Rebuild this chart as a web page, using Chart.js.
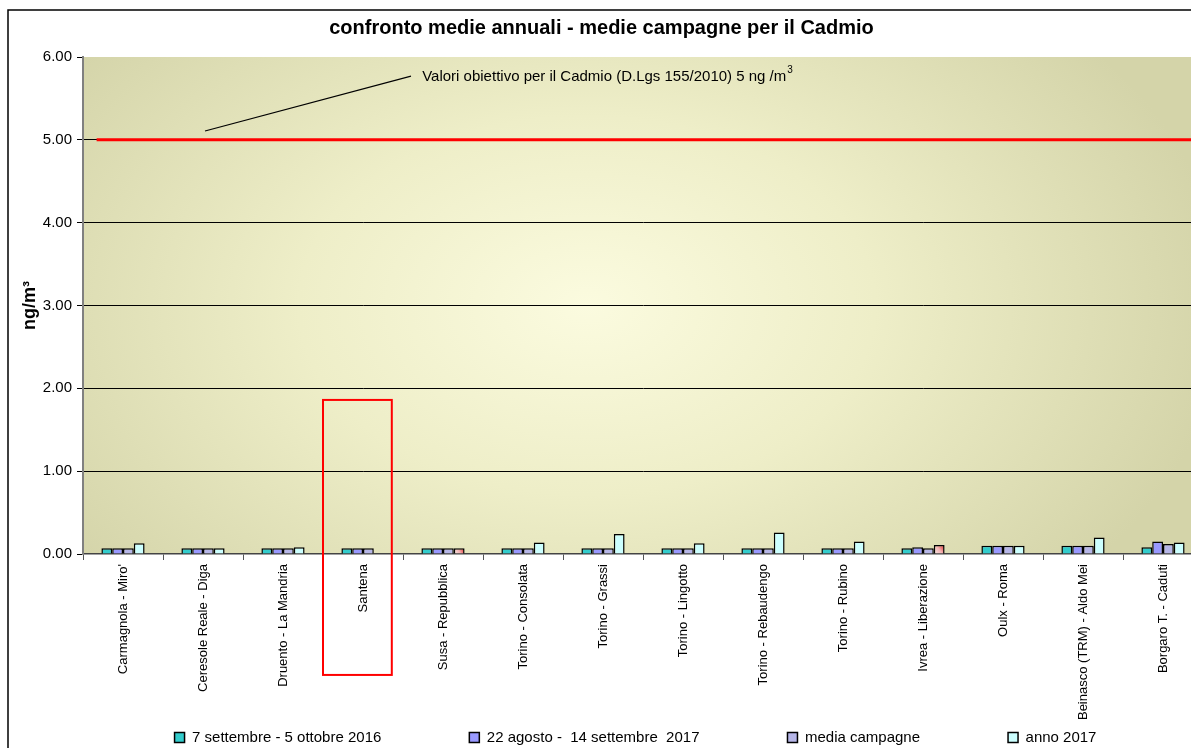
<!DOCTYPE html>
<html>
<head>
<meta charset="utf-8">
<script src="https://cdn.jsdelivr.net/npm/chart.js@4/dist/chart.umd.min.js"></script>
<style>
  html, body { margin: 0; padding: 0; background: #fff; overflow: hidden; }
  #wrap { position: relative; width: 1191px; height: 748px; overflow: hidden; }
  #wrap canvas { position: absolute; left: 0; top: 0; }
</style>
</head>
<body>
<div id="wrap"><canvas id="cd" width="1274" height="755" style="width:1274px;height:755px"></canvas></div>
<script>
// Cadmium (ng/m³) per monitoring station
const stations = [
  "Carmagnola - Miro'", "Ceresole Reale - Diga", "Druento - La Mandria", "Santena",
  "Susa - Repubblica", "Torino - Consolata", "Torino - Grassi", "Torino - Lingotto",
  "Torino - Rebaudengo", "Torino - Rubino", "Ivrea - Liberazione", "Oulx - Roma",
  "Beinasco (TRM) - Aldo Mei", "Borgaro T. - Caduti"
];
const seriesNames = [
  "7 settembre - 5 ottobre 2016",
  "22 agosto -  14 settembre  2017",
  "media campagne",
  "anno 2017"
];
const campaign2016 = [0.07, 0.07, 0.07, 0.07, 0.07, 0.07, 0.07, 0.07, 0.07, 0.07, 0.07, 0.10, 0.10, 0.08];
const campaign2017 = [0.07, 0.07, 0.07, 0.07, 0.07, 0.07, 0.07, 0.07, 0.07, 0.07, 0.08, 0.10, 0.10, 0.15];
const campaignMean = [0.07, 0.07, 0.07, 0.07, 0.07, 0.07, 0.07, 0.07, 0.07, 0.07, 0.07, 0.10, 0.10, 0.12];
const year2017     = [0.13, 0.07, 0.08, null, 0.07, 0.14, 0.24, 0.13, 0.26, 0.15, 0.11, 0.10, 0.20, 0.14];
// stations whose yearly value is shown with a red-shaded bar
const partialYear = ["Susa - Repubblica", "Ivrea - Liberazione"];
// target value (D.Lgs 155/2010)
const targetValue = 5;
const yTicks = [0, 1, 2, 3, 4, 5, 6];
const highlighted = "Santena";

Chart.defaults.font.family = 'Arial, "Liberation Sans", sans-serif';
Chart.defaults.color = '#000';

const CAT_PCT = 0.54;
const FONT = 'Arial, "Liberation Sans", sans-serif';

function yearFill(ctx) {
  const chart = ctx.chart;
  const i = ctx.dataIndex;
  if (i === undefined || !partialYear.includes(stations[i])) return '#CCFFFF';
  const xs = chart.scales.x, ys = chart.scales.y;
  if (!xs || !ys || xs.width === undefined) return '#f0a0a0';
  const catW = xs.getPixelForValue(1) - xs.getPixelForValue(0);
  const bw = catW * CAT_PCT / 4;
  const cx = xs.getPixelForValue(i) + 1.5 * bw;
  const v = year2017[i];
  const g = chart.ctx.createLinearGradient(cx - bw / 2, ys.getPixelForValue(0), cx + bw / 2, ys.getPixelForValue(v));
  g.addColorStop(0, '#fbeaea');
  g.addColorStop(0.5, '#f2b4b4');
  g.addColorStop(1, '#e02020');
  return g;
}

const decorations = {
  id: 'decorations',
  afterLayout(chart) {
    // shift the bottom legend row to the right
    chart.legend.left += 34;
    chart.legend.right += 34;
    // let the rotated station names run below the axis box
    chart.scales.x.bottom = chart.height;
  },
  beforeDraw(chart) {
    const { ctx, chartArea: a } = chart;
    ctx.save();
    ctx.fillStyle = '#fff';
    ctx.fillRect(0, 0, chart.width, chart.height);
    // outer frame
    ctx.strokeStyle = '#000';
    ctx.lineWidth = 1.5;
    ctx.strokeRect(8, 10, 3000, 3000);
    // plot area radial shading
    const cx = a.left + a.width * 0.45, cy = a.top + a.height * 0.5;
    const rx = 640, ry = 420;
    ctx.beginPath();
    ctx.rect(a.left, a.top, a.width, a.height);
    ctx.clip();
    ctx.translate(cx, cy);
    ctx.scale(1, ry / rx);
    const g = ctx.createRadialGradient(0, 0, 0, 0, 0, rx);
    g.addColorStop(0, '#fbfbdf');
    g.addColorStop(0.45, '#eeeec8');
    g.addColorStop(1, '#d4d4a9');
    ctx.fillStyle = g;
    ctx.fillRect(-3000, -3000, 6000, 6000);
    ctx.restore();
  },
  afterDatasetsDraw(chart) {
    const { ctx, chartArea: a, scales: { x, y } } = chart;
    ctx.save();
    // target value line
    const yt = y.getPixelForValue(targetValue);
    ctx.strokeStyle = '#ff0000';
    ctx.lineWidth = 3;
    ctx.beginPath();
    ctx.moveTo(x.getPixelForValue(-0.33), yt);
    ctx.lineTo(a.right, yt);
    ctx.stroke();
    // label with leader line
    ctx.strokeStyle = '#000';
    ctx.lineWidth = 1.2;
    ctx.beginPath();
    ctx.moveTo(x.getPixelForValue(1.025), y.getPixelForValue(5.107));
    ctx.lineTo(x.getPixelForValue(3.6), y.getPixelForValue(5.77));
    ctx.stroke();
    const tx = x.getPixelForValue(3.74), ty = y.getPixelForValue(5.76);
    ctx.fillStyle = '#000';
    ctx.font = '15px ' + FONT;
    ctx.textAlign = 'left';
    ctx.textBaseline = 'middle';
    const label = 'Valori obiettivo per il Cadmio (D.Lgs 155/2010) 5 ng /m';
    ctx.fillText(label, tx, ty);
    const w = ctx.measureText(label).width;
    ctx.font = '10px ' + FONT;
    ctx.fillText('3', tx + w + 1, ty - 7);
    ctx.restore();
  },
  afterDraw(chart) {
    const { ctx, scales: { x, y } } = chart;
    const i = stations.indexOf(highlighted);
    ctx.save();
    ctx.strokeStyle = '#ff0000';
    ctx.lineWidth = 2;
    const l = x.getPixelForValue(i - 0.5), r = x.getPixelForValue(i + 0.36);
    const t = y.getPixelForValue(1.86), b = y.getPixelForValue(-1.46);
    ctx.strokeRect(l, t, r - l, b - t);
    ctx.restore();
  }
};

new Chart(document.getElementById('cd'), {
  type: 'bar',
  data: {
    labels: stations,
    datasets: [
      { label: seriesNames[0], data: campaign2016, backgroundColor: '#33CCCC' },
      { label: seriesNames[1], data: campaign2017, backgroundColor: '#9999FF' },
      { label: seriesNames[2], data: campaignMean, backgroundColor: '#B6B6E8' },
      { label: seriesNames[3], data: year2017, backgroundColor: yearFill }
    ].map(d => Object.assign(d, {
      borderColor: '#000', borderWidth: 1.5,
      categoryPercentage: CAT_PCT, barPercentage: 1
    }))
  },
  options: {
    responsive: false,
    animation: false,
    events: [],
    layout: { padding: { left: 0, right: 71, top: 0, bottom: 0 } },
    plugins: {
      title: {
        display: true,
        text: 'confronto medie annuali - medie campagne per il Cadmio',
        font: { size: 20, weight: 'bold' },
        color: '#000',
        padding: { top: 16, bottom: 17 }
      },
      legend: {
        position: 'bottom',
        labels: {
          boxWidth: 10, boxHeight: 10,
          padding: 88,
          font: { size: 15 },
          color: '#000',
          generateLabels(chart) {
            return chart.data.datasets.map((d, i) => ({
              text: d.label,
              fillStyle: typeof d.backgroundColor === 'string' ? d.backgroundColor : '#CCFFFF',
              strokeStyle: '#000',
              lineWidth: 1.5,
              datasetIndex: i
            }));
          }
        }
      },
      tooltip: { enabled: false }
    },
    scales: {
      x: {
        afterFit(s) { s.height = 88; },
        grid: {
          display: true, drawOnChartArea: false, drawTicks: true,
          tickLength: 6, offset: true, tickColor: '#555'
        },
        border: { display: true, color: '#444', width: 1.5 },
        ticks: {
          autoSkip: false, minRotation: 90, maxRotation: 90,
          padding: 4, font: { size: 13 }, color: '#000'
        }
      },
      y: {
        min: 0, max: 6,
        afterFit(s) { s.width = 83; },
        afterBuildTicks(s) { s.ticks = yTicks.map(v => ({ value: v })); },
        grid: {
          color: c => (c.tick && (c.tick.value === 6 || c.tick.value === 0)) ? 'rgba(0,0,0,0)' : '#000',
          lineWidth: 1, tickLength: 6, tickColor: '#000'
        },
        border: { display: true, color: '#808080', width: 2 },
        ticks: {
          padding: 5, font: { size: 15 }, color: '#000',
          callback: v => Number(v).toFixed(2)
        },
        title: {
          display: true, text: 'ng/m³',
          font: { size: 18, weight: 'bold' }, color: '#000',
          padding: { top: 19, bottom: 0 }
        }
      }
    }
  },
  plugins: [decorations]
});
</script>
</body>
</html>
